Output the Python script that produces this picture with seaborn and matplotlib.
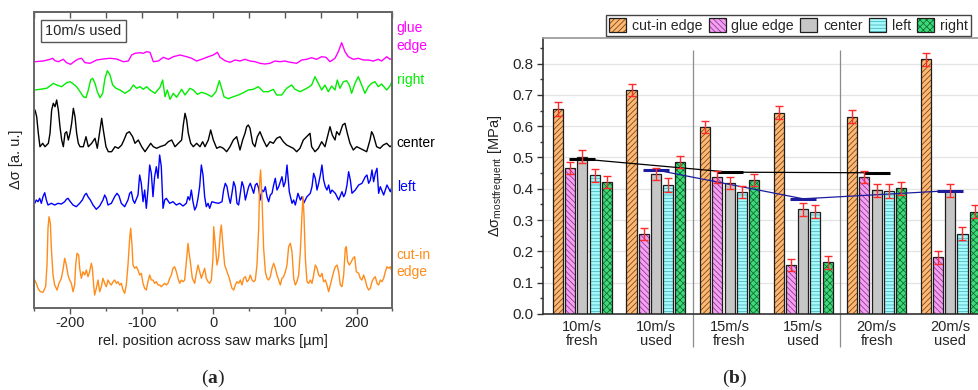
import numpy as np
import pandas as pd
import matplotlib
matplotlib.use("Agg")
import matplotlib.pyplot as plt
import seaborn as sns
from matplotlib.patches import Patch, Rectangle
from matplotlib.ticker import MultipleLocator, FormatStrFormatter

# ---------------- data: panel (a) traces (x in µm, signal in a.u.) ----------------
GLUE_X = [-248.8, -237.2, -227.9, -224.2, -220.9, -216.3, -209.3, -204.7, -199.1, -193.0,
          -188.4, -183.7, -179.1, -172.1, -162.8, -153.5, -144.2, -134.9, -125.6, -118.6,
          -114.0, -109.3, -102.3, -97.7, -93.0, -88.4, -83.7, -76.7, -69.8, -62.8,
          -55.8, -46.5, -37.2, -30.2, -23.3, -16.3, -7.0, 0.0, 5.6, 9.3,
          16.3, 23.3, 30.2, 37.2, 44.2, 51.2, 58.1, 65.1, 72.1, 79.1,
          86.0, 93.0, 100.0, 107.0, 116.3, 123.3, 130.2, 137.2, 144.2, 151.2,
          157.2, 162.8, 169.8, 174.4, 179.1, 183.7, 188.4, 195.3, 202.3, 209.3,
          216.3, 223.3, 230.2, 234.9, 241.9, 246.5, 250.0]
GLUE_Y = [3.3, 4, 5.7, 6.7, 4.3, 3.3, 5.7, 2.3, 0.7, 4,
          6, 6.7, 2.3, 1.7, 5, 6, 6.7, 6, 3.3, 4,
          10, 11.7, 12.3, 11.7, 13.3, 12.7, 3.3, 4, 7.7, 5.7,
          8.3, 10, 8.3, 6.7, 4, 5.7, 8.3, 10, 12.7, 7.7,
          4.3, 2.7, 5, 4, 5.7, 4, 3.3, 1.7, 1, 1.7,
          4, 3.3, 4, 2.7, 1.7, 5, 5.7, 7.3, 5.7, 8.3,
          7.7, 3.3, 6.7, 13.3, 22.3, 13.3, 8.3, 5.7, 6.7, 5,
          5, 4, 5.7, 4, 8.3, 5.7, 6.7]

RIGHT_X = [-248.8, -241.9, -232.6, -227.9, -223.3, -218.6, -211.6, -204.7, -200.0, -195.3,
           -190.7, -186.0, -181.4, -177.7, -174.4, -171.2, -168.4, -165.1, -161.9, -158.1,
           -154.4, -151.2, -147.9, -144.2, -140.5, -135.8, -130.2, -123.3, -116.3, -111.6,
           -107.0, -102.3, -97.7, -93.0, -88.4, -81.4, -74.4, -70.7, -67.4, -64.2,
           -60.5, -55.8, -51.2, -44.2, -39.5, -32.6, -27.9, -22.3, -16.3, -9.3,
           -2.3, 3.7, 8.4, 11.6, 14.9, 20.9, 27.9, 34.9, 41.9, 48.8,
           55.8, 62.8, 69.8, 76.7, 83.7, 88.4, 95.3, 102.3, 109.3, 114.0,
           121.0, 127.9, 132.6, 137.2, 141.9, 146.5, 151.2, 155.8, 160.5, 165.1,
           169.8, 173.0, 176.7, 181.4, 186.0, 189.8, 193.0, 197.7, 202.3, 207.0,
           211.6, 216.3, 220.9, 225.6, 230.2, 234.9, 241.9, 246.5, 250.0]
RIGHT_Y = [10, 10.7, 11.7, 14, 16.7, 15, 13.3, 17.3, 18.3, 16,
           13.3, 8.3, 3.3, 2.3, 10, 20, 21.7, 16.7, 8.3, 2.3,
           6.7, 21.7, 29.3, 25, 15, 11.7, 10, 6.7, 10, 15,
           11.7, 13.3, 10.7, 13.3, 10, 6.7, 12.7, 20, 3.3, 10,
           0.7, 6.7, 2.7, 10.7, 5, 11.7, 10, 5.7, 7.7, 6,
           3.3, 8.3, 19.3, 11.7, 3.3, 1.3, 3.3, 5, 7.3, 10,
           10.7, 13.3, 8.3, 8.3, 10.7, 5, 5, 11.7, 15, 10.7,
           8.3, 10.7, 12.7, 15, 23.3, 16.7, 10, 15, 8.3, 14,
           10, 20, 11.7, 18.3, 19.3, 15, 6.7, 16.7, 23.3, 15,
           6.7, 13.3, 16.7, 18.3, 13.3, 16, 10, 14, 20]

CENTER_X = [-248.8, -246.5, -244.2, -241.9, -238.1, -234.9, -230.2, -227.9, -225.6, -223.3,
            -220.9, -218.6, -216.3, -214.0, -211.6, -209.3, -207.0, -204.7, -202.3, -200.0,
            -197.7, -195.3, -193.0, -190.7, -188.4, -186.0, -181.4, -177.7, -174.4, -169.8,
            -165.1, -161.9, -158.1, -155.8, -153.5, -149.8, -146.5, -141.9, -137.2, -132.6,
            -127.9, -124.7, -120.9, -117.2, -112.6, -109.3, -104.7, -100.0, -95.3, -90.7,
            -87.4, -83.7, -79.1, -74.4, -67.4, -62.8, -58.1, -53.5, -48.8, -44.2,
            -41.9, -39.5, -37.2, -34.9, -31.6, -27.9, -23.3, -18.6, -14.9, -11.6,
            -7.0, -3.7, 0.0, 4.7, 9.3, 14.0, 18.6, 23.3, 27.9, 32.6,
            37.2, 40.9, 44.2, 46.5, 48.8, 51.2, 54.9, 58.1, 61.4, 65.1,
            69.8, 74.4, 79.1, 83.7, 88.4, 93.0, 97.7, 102.3, 107.0, 111.6,
            116.3, 120.9, 125.6, 130.2, 134.9, 137.2, 141.9, 146.5, 151.2, 155.8,
            160.5, 162.8, 166.0, 169.8, 172.1, 175.8, 180.5, 183.7, 187.0, 190.7,
            195.3, 200.0, 204.7, 209.3, 214.0, 218.6, 220.9, 223.3, 227.9, 232.6,
            237.2, 241.9, 246.5, 250.0]
CENTER_Y = [45, 38.3, 21.7, 8.3, 11.7, 8.3, 11.7, 21.7, 45, 51.7,
            48.3, 55, 45, 28.3, 15, 8.3, 21.7, 23.3, 15, 21.7,
            31.7, 46.7, 38.3, 21.7, 11.7, 8.3, 8.3, 18.3, 8.3, 11.7,
            16.7, 6.7, 25, 36.7, 25, 8.3, 3.3, 3.3, 8.3, 6.7,
            10, 15, 21.7, 23.3, 18.3, 11.7, 15, 8.3, 3.3, 8.3,
            11.7, 8.3, 6.7, 8.3, 10, 13.3, 15, 8.3, 11.7, 15,
            30, 41.7, 35, 21.7, 11.7, 8.3, 11.7, 8.3, 13.3, 8.3,
            15, 25, 15, 6.7, 8.3, 6.7, 3.3, 8.3, 15, 18.3,
            5, 15, 21.7, 28.3, 30, 26.7, 11.7, 8.3, 18.3, 23.3,
            15, 8.3, 13.3, 11.7, 16.7, 18.3, 13.3, 10, 8.3, 6.7,
            3.3, 6.7, 15, 18.3, 21.7, 8.3, 3.3, 6.7, 13.3, 8.3,
            21.7, 28.3, 20, 15, 23.3, 20, 30, 31.7, 21.7, 11.7,
            5, 8.3, 6.7, 5, 3.3, 15, 23.3, 20, 8.3, 6.7,
            10, 11.7, 8.3, 10]

LEFT_X = [-249.3, -247.0, -244.7, -242.3, -240.0, -237.7, -235.3, -233.0, -230.7, -226.0,
          -221.4, -216.7, -212.1, -207.4, -205.1, -202.8, -200.5, -195.8, -191.2, -186.5,
          -182.8, -179.5, -177.2, -174.9, -171.6, -167.9, -163.3, -158.6, -154.0, -151.6,
          -149.3, -147.0, -142.3, -137.7, -134.4, -131.6, -128.4, -123.7, -119.1, -116.7,
          -114.4, -112.1, -109.8, -105.1, -102.8, -100.5, -98.1, -95.8, -93.5, -91.2,
          -88.8, -86.5, -84.2, -81.9, -79.5, -77.2, -74.9, -72.6, -70.2, -67.9,
          -65.6, -60.9, -56.3, -51.6, -47.0, -42.3, -37.7, -35.3, -33.0, -30.7,
          -28.4, -26.0, -23.7, -21.4, -19.1, -16.7, -14.4, -12.1, -9.8, -7.4,
          -5.1, -2.8,
          -1.9, 2.8, 7.4, 12.1, 14.4, 16.7, 19.1, 21.4, 23.7, 26.0,
          28.4, 30.7, 33.0, 35.3, 37.7, 40.0, 42.3, 44.7, 47.0, 49.3,
          51.6, 54.0, 56.3, 58.6, 60.9, 63.3, 65.6, 67.9, 70.2, 72.6,
          74.9, 77.2, 79.5, 81.9, 84.2, 86.5, 88.8, 91.2, 93.5, 95.8,
          98.1, 100.5, 102.8, 104.2, 106.0, 109.8, 112.1, 114.4, 118.1, 121.4,
          123.7, 126.0, 130.7, 135.3, 137.7, 140.0, 142.3, 144.7, 147.0, 149.3,
          151.6, 153.9, 156.3, 158.6, 160.9, 163.3, 165.6, 170.2, 174.9, 179.5,
          181.9, 184.2, 186.5, 188.8, 191.2, 193.5, 198.1, 202.8, 207.4, 212.1,
          214.4, 216.7, 219.1, 221.4, 223.7, 226.0, 228.4, 230.7, 233.0, 237.7,
          240.0, 242.3, 244.7, 247.0, 249.3, 250.0]
LEFT_Y = [11.7, 15, 13.3, 16.7, 11.7, 18.3, 22.3, 15, 10, 11.7,
          10, 11.7, 11, 13.3, 15.7, 16.7, 14.3, 10, 8.3, 11.7,
          15, 20, 21.7, 18.3, 15, 10, 5.7, 9, 15, 20,
          16.7, 10, 11.7, 18.3, 21.7, 19, 11.7, 8.3, 15, 21.7,
          23.3, 15, 11.7, 20, 40, 31.7, 13.3, 25, 6.7, 25,
          50, 41.7, 18.3, 38.3, 48.3, 36.7, 60, 48.3, 6.7, 15,
          16.7, 11.7, 13.3, 10, 11.7, 9, 11.7, 18.3, 15, 25,
          13.3, 5, 8.3, 16.7, 28.3, 50, 40, 18.3, 8.3, 11.7,
          6.7, 11.7,
          13.3, 12.3, 11.7, 13.3, 25, 31.7, 28.3, 18.3, 11.7, 21.7,
          33.3, 28.3, 11.7, 10, 21.7, 33.3, 28.3, 15, 21.7, 28.3,
          31.7, 26.7, 21.7, 30, 31.7, 26.7, 15, 25, 23.3, 28.3,
          18.3, 13.3, 20, 21.7, 30, 36.7, 25, 28.3, 33.3, 38.3,
          28.3, 33.3, 50, 38.3, 23.3, 11.7, 15, 10, 21.7, 15,
          18.3, 11.7, 18.3, 21.7, 28.3, 41.7, 36.7, 25, 31.7, 40,
          50, 35, 28.3, 25, 30, 21.7, 25, 21.7, 15, 23.3,
          18.3, 21.7, 30, 43.3, 35, 21.7, 25, 30, 31.7, 38.3,
          40, 31.7, 35, 45, 33.3, 41.7, 46.7, 21.7, 28.3, 20,
          25, 30, 26.7, 23.3, 28.3, 25]

CUTIN_X = [-249.3, -247.0, -244.7, -241.4, -237.7, -234.0, -232.1, -230.7, -229.3, -227.4,
           -226.0, -223.7, -221.4, -218.1, -215.3, -212.1, -209.8, -207.4, -205.1, -202.8,
           -200.5, -198.1, -195.8, -193.5, -192.1, -190.2, -187.9, -186.5, -184.2, -181.9,
           -179.5, -177.2, -174.9, -172.6, -170.2, -168.8, -167.0, -165.6, -163.3, -160.9,
           -158.6, -156.3, -154.0, -151.6, -149.3, -147.0, -144.7, -142.3, -140.0, -137.7,
           -135.3, -133.0, -130.7, -128.4, -126.0, -123.7, -121.4, -119.1, -116.7, -115.3,
           -113.5, -112.1, -109.8, -107.4, -105.1, -102.8, -100.5, -98.1, -95.8, -93.5,
           -91.2, -88.8, -86.5, -84.2, -81.9, -79.5, -77.2, -74.9, -72.6, -70.2,
           -67.9, -65.6, -63.3, -60.9, -58.6, -56.3, -54.0, -51.6, -49.3, -47.0,
           -44.7, -42.3, -40.0, -37.7, -35.3, -34.0, -32.1, -29.3, -26.0, -23.7,
           -21.4, -19.1, -16.7, -14.4, -12.1, -9.8, -7.4, -5.1, -2.8, -0.5,
           0.5, 2.8, 5.1, 7.4, 9.8, 11.2, 13.0, 15.8, 19.1, 22.3,
           26.0, 28.4, 30.7, 33.0, 35.3, 37.7, 40.0, 42.3, 44.7, 47.0,
           49.3, 51.6, 54.0, 56.3, 58.6, 60.9, 63.3, 64.7, 66.0, 67.9,
           70.2, 72.6, 74.9, 77.2, 79.5, 81.9, 84.2, 86.5, 88.8, 91.2,
           93.5, 95.8, 98.1, 100.5, 102.8, 105.1, 107.4, 109.8, 112.1, 114.4,
           116.7, 119.1, 121.4, 123.7, 125.1, 126.5, 128.4, 130.7, 133.0, 135.3,
           137.7, 140.0, 142.3, 144.7, 147.0, 149.3, 151.6, 153.9, 156.3, 158.6,
           160.9, 163.3, 165.6, 167.9, 170.2, 172.6, 174.9, 177.2, 179.5, 181.9,
           184.2, 185.6, 187.4, 189.8, 192.6, 194.9, 197.2, 199.5, 202.8, 205.1,
           207.4, 209.8, 212.1, 214.4, 216.7, 219.1, 221.4, 223.7, 226.0, 228.4,
           230.7, 233.0, 235.3, 237.7, 240.0, 242.3, 244.7, 247.0, 249.3, 250.0]
CUTIN_Y = [20, 16.7, 11.7, 8.3, 7.7, 13.3, 35, 71.7, 83.3, 76.7,
           51.7, 25, 15, 10, 16.7, 21.7, 30, 41.7, 35, 25,
           20, 16.7, 8.3, 15, 35, 46.7, 45, 31.7, 21.7, 28.3,
           25, 30, 23.3, 28.3, 36.7, 31.7, 15, 5, 11.7, 20,
           8.3, 13.3, 21.7, 16.7, 13.3, 20, 16.7, 15, 18.3, 20,
           16.7, 18.3, 15, 16.7, 10, 6.7, 15, 35, 61.7, 71.7,
           55, 35, 31.7, 33.3, 30, 25, 26.7, 16.7, 11.7, 10,
           18.3, 25, 20, 20, 16.7, 18.3, 15, 15, 13.3, 15,
           16.7, 15, 16.7, 21.7, 25, 31.7, 33.3, 28.3, 21.7, 16.7,
           20, 18.3, 20, 38.3, 56.7, 48.3, 38.3, 21.7, 16.7, 26.7,
           35, 28.3, 21.7, 26.7, 31.7, 21.7, 18.3, 16.7, 20, 41.7,
           73.3, 55, 35, 43.3, 68.3, 75, 58.3, 35, 28.3, 21.7,
           11.7, 10, 15, 18.3, 16.7, 20, 15, 21.7, 23.3, 18.3,
           20, 25, 20, 18.3, 20, 35, 71.7, 118.3, 130, 101.7,
           51.7, 28.3, 21.7, 20, 23.3, 31.7, 36.7, 31.7, 25, 20,
           15, 21.7, 23.3, 28.3, 35, 53.3, 56.7, 48.3, 21.7, 15,
           18.3, 25, 48.3, 85, 103.3, 85, 41.7, 18.3, 16.7, 20,
           16.7, 25, 35, 31.7, 25, 23.3, 26.7, 18.3, 20, 15,
           8.3, 15, 21.7, 28.3, 33.3, 35, 28.3, 15, 13.3, 25,
           51.7, 53.3, 38.3, 35, 38.3, 41.7, 43.3, 28.3, 26.7, 21.7,
           20, 25, 20, 13.3, 10, 11.7, 18.3, 21.7, 23.3, 16.7,
           15, 20, 18.3, 21.7, 28.3, 33.3, 31.7, 33.3, 28.3, 30]

TRACE_NAMES = ["glue\nedge", "right", "center", "left", "cut-in\nedge"]
INSET_TEXT = "10m/s used"

# ---------------- data: panel (b) ----------------
CATEGORIES = ["10m/s\nfresh", "10m/s\nused", "15m/s\nfresh", "15m/s\nused", "20m/s\nfresh", "20m/s\nused"]
POSITIONS = ["cut-in edge", "glue edge", "center", "left", "right"]
CUTIN_VAL = [0.655, 0.715, 0.598, 0.643, 0.630, 0.814]
GLUE_VAL = [0.466, 0.256, 0.438, 0.156, 0.437, 0.181]
CENTER_VAL = [0.503, 0.447, 0.418, 0.335, 0.395, 0.394]
LEFT_VAL = [0.443, 0.412, 0.389, 0.326, 0.393, 0.256]
RIGHT_VAL = [0.423, 0.485, 0.428, 0.165, 0.402, 0.326]
CUTIN_ERR = [0.021, 0.020, 0.020, 0.021, 0.021, 0.021]
GLUE_ERR = [0.020, 0.020, 0.020, 0.020, 0.020, 0.021]
CENTER_ERR = [0.021, 0.020, 0.020, 0.021, 0.021, 0.021]
LEFT_ERR = [0.021, 0.021, 0.020, 0.021, 0.021, 0.021]
RIGHT_ERR = [0.019, 0.020, 0.020, 0.021, 0.021, 0.021]
FRESH_CATS = ["10m/s\nfresh", "15m/s\nfresh", "20m/s\nfresh"]
FRESH_TREND = [0.495, 0.453, 0.451]
USED_CATS = ["10m/s\nused", "15m/s\nused", "20m/s\nused"]
USED_TREND = [0.460, 0.368, 0.394]
YLABEL_B = r"$\mathrm{\Delta\sigma}_{\mathrm{mostfrequent}}$ [MPa]"

# ---------------- style ----------------
sns.set_theme(style="white")
plt.rcParams["font.family"] = ["Liberation Sans", "DejaVu Sans"]
plt.rcParams["mathtext.fontset"] = "custom"
plt.rcParams["mathtext.rm"] = "Liberation Sans"
plt.rcParams["mathtext.it"] = "Liberation Sans:italic"
plt.rcParams["mathtext.bf"] = "Liberation Serif:bold"
plt.rcParams["hatch.linewidth"] = 0.55
plt.rcParams["axes.unicode_minus"] = False

fig = plt.figure(figsize=(9.79, 3.90), dpi=100)
fig.patch.set_facecolor("white")

# ================= panel (a) =================
axA = fig.add_axes([0.0349, 0.211, 0.366, 0.759])
trace_data = [(GLUE_X, GLUE_Y), (RIGHT_X, RIGHT_Y), (CENTER_X, CENTER_Y), (LEFT_X, LEFT_Y), (CUTIN_X, CUTIN_Y)]
trace_colors = ["#ff00ff", "#00ee00", "#000000", "#0000ff", "#ff8c1a"]
trace_offsets = [242.7, 207.7, 152.7, 92.7, 7.7]
label_ypos = [0.915, 0.770, 0.556, 0.408, 0.150]
for name, (xs, ys), col, off, ly in zip(TRACE_NAMES, trace_data, trace_colors, trace_offsets, label_ypos):
    df = pd.DataFrame({"x": xs, "y": np.asarray(ys, dtype=float) + off})
    sns.lineplot(data=df, x="x", y="y", ax=axA, color=col, lw=1.0, estimator=None, sort=False)
    axA.text(1.012, ly, name, transform=axA.transAxes, color=col, ha="left", va="center",
             fontsize=10, linespacing=1.3)

axA.set_xlim(-250, 250)
axA.set_ylim(0, 296)
axA.set_yticks([])
axA.xaxis.set_major_locator(MultipleLocator(100))
axA.xaxis.set_minor_locator(MultipleLocator(50))
axA.tick_params(axis="x", which="major", direction="out", length=4, width=1, color="#555555",
                labelsize=10.5, pad=2, bottom=True)
axA.tick_params(axis="x", which="minor", direction="out", length=2.5, width=1, color="#555555", bottom=True)
for sp in axA.spines.values():
    sp.set_color("#666666")
    sp.set_linewidth(1.4)
sec = axA.secondary_xaxis("top")
sec.xaxis.set_major_locator(MultipleLocator(100))
sec.xaxis.set_minor_locator(MultipleLocator(50))
sec.tick_params(axis="x", which="major", direction="in", length=4, width=1, color="#555555", labeltop=False)
sec.tick_params(axis="x", which="minor", direction="in", length=4, width=1, color="#555555")
sec.spines["top"].set_color("#666666")
sec.spines["top"].set_linewidth(1.4)
axA.set_xlabel("rel. position across saw marks [µm]", fontsize=10.5, labelpad=3, color="#222222")
axA.set_ylabel("Δσ [a. u.]", fontsize=10.5, labelpad=8, color="#222222")
axA.text(0.031, 0.935, INSET_TEXT, transform=axA.transAxes, fontsize=10.5, va="center", ha="left",
         bbox=dict(boxstyle="square,pad=0.3", fc="white", ec="#555555", lw=1.0))

# ================= panel (b) =================
axB = fig.add_axes([0.555, 0.195, 0.4555, 0.707])
vals = {"cut-in edge": CUTIN_VAL, "glue edge": GLUE_VAL, "center": CENTER_VAL, "left": LEFT_VAL, "right": RIGHT_VAL}
errs = {"cut-in edge": CUTIN_ERR, "glue edge": GLUE_ERR, "center": CENTER_ERR, "left": LEFT_ERR, "right": RIGHT_ERR}
rows = []
for p in POSITIONS:
    for c, v in zip(CATEGORIES, vals[p]):
        rows.append({"cat": c, "pos": p, "val": v})
dfb = pd.DataFrame(rows)

face = {"cut-in edge": "#ffb870", "glue edge": "#f4a0f0", "center": "#c6c6c6", "left": "#a8fafa", "right": "#3fd97a"}
hatch = {"cut-in edge": "//////", "glue edge": "\\\\\\\\\\\\", "center": "", "left": "-----", "right": "xxxxx"}
hcol = {"cut-in edge": "#6a4020", "glue edge": "#8a3090", "center": "#c6c6c6", "left": "#40b0c0", "right": "#0a6a30"}

axB.yaxis.grid(True, color="#e4e4e4", lw=0.9)
axB.set_axisbelow(True)
sns.barplot(data=dfb, x="cat", y="val", hue="pos", order=CATEGORIES, hue_order=POSITIONS,
            palette=face, saturation=1, width=0.83, gap=0.18, errorbar=None, legend=False,
            ax=axB, zorder=2)

ex, ey, ee = [], [], []
for p, cont in zip(POSITIONS, axB.containers):
    for bar, e in zip(cont, errs[p]):
        bar.set_hatch(hatch[p])
        bar.set_edgecolor(hcol[p])
        bar.set_linewidth(0)
        x0, w, h = bar.get_x(), bar.get_width(), bar.get_height()
        axB.add_patch(Rectangle((x0, 0), w, h, fill=False, ec="#1e1e1e", lw=0.9, zorder=3))
        ex.append(x0 + w / 2)
        ey.append(h)
        ee.append(e)
axB.errorbar(ex, ey, yerr=ee, fmt="none", ecolor="#ff2a2a", elinewidth=1.0, capsize=2.6, capthick=1.0, zorder=6)

fx = [CATEGORIES.index(c) for c in FRESH_CATS]
ux = [CATEGORIES.index(c) for c in USED_CATS]
axB.plot(fx, FRESH_TREND, color="#000000", lw=0.9, zorder=5)
axB.plot(fx, FRESH_TREND, ls="none", marker="_", ms=19, mew=2.2, color="#000000", zorder=5)
axB.plot(ux, USED_TREND, color="#1c1c9c", lw=0.9, zorder=5)
axB.plot(ux, USED_TREND, ls="none", marker="_", ms=19, mew=2.2, color="#1c1c9c", zorder=5)

seps = [i - 0.5 for i in range(2, len(CATEGORIES), 2)]
axB.vlines(seps, -0.105, 0.843, colors="#8c8c8c", lw=0.9, clip_on=False, zorder=1)

axB.set_xlim(-0.53, len(CATEGORIES) - 0.47)
axB.set_ylim(0, 0.881)
axB.yaxis.set_major_locator(MultipleLocator(0.1))
axB.yaxis.set_minor_locator(MultipleLocator(0.05))
axB.yaxis.set_major_formatter(FormatStrFormatter("%.1f"))
axB.tick_params(axis="y", which="major", direction="out", length=4, width=1, color="#333333",
                labelsize=11, pad=3, left=True)
axB.tick_params(axis="y", which="minor", direction="out", length=2, width=1, color="#333333", left=True)
axB.tick_params(axis="x", length=0, labelsize=10.5, pad=4)
for t in axB.get_xticklabels():
    t.set_linespacing(1.05)
axB.set_xlabel("")
axB.set_ylabel(YLABEL_B, fontsize=10.5, labelpad=5, color="#222222")
axB.spines["left"].set_color("#333333")
axB.spines["bottom"].set_color("#333333")
axB.spines["left"].set_linewidth(1.2)
axB.spines["bottom"].set_linewidth(1.2)
axB.spines["top"].set_color("#9a9a9a")
axB.spines["right"].set_color("#9a9a9a")

handles = []
for p in POSITIONS:
    handles.append((Patch(facecolor=face[p], edgecolor=hcol[p], lw=0, hatch=hatch[p]),
                    Patch(fill=False, edgecolor="#1e1e1e", lw=0.9)))
leg = axB.legend(handles, POSITIONS, loc="upper left", bbox_to_anchor=(606 / 979, 1 - 15 / 390),
                 bbox_transform=fig.transFigure, ncol=5, frameon=True, fancybox=False,
                 edgecolor="#444444", framealpha=1, fontsize=10.2, handlelength=1.2, handleheight=1.15,
                 handletextpad=0.4, columnspacing=0.45, borderpad=0.22, borderaxespad=0)
leg.get_frame().set_linewidth(1.0)

fig.text(213 / 979, 1 - 378 / 390, r"($\mathbf{a}$)", ha="center", va="center", fontsize=14,
         family="Liberation Serif")
fig.text(735 / 979, 1 - 378 / 390, r"($\mathbf{b}$)", ha="center", va="center", fontsize=14,
         family="Liberation Serif")

fig.savefig("out.png", dpi=100)
